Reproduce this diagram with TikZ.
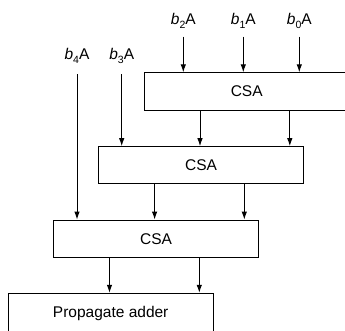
\documentclass[tikz,border=0pt]{standalone}
\usepackage{fontspec}
\setmainfont{Liberation Sans}
\usetikzlibrary{arrows.meta,calc}
\tikzset{
  blk/.style={draw, line width=1pt, minimum width=205.4pt, minimum height=37.3pt, inner sep=0pt, font=\fontsize{15.5}{18}\selectfont},
  lab/.style={inner sep=0pt, anchor=base, font=\fontsize{15.5}{18}\selectfont},
  arr/.style={line width=0.95pt, -{Latex[length=8pt,width=5.5pt]}}
}
\newcommand{\bsub}[1]{{\itshape b}\raisebox{-4pt}{\fontsize{10.5}{10.5}\selectfont #1}A}
\begin{document}
\begin{tikzpicture}[x=1pt,y=-1pt]
\useasboundingbox (0,0) rectangle (345,330);
\clip (0,0) rectangle (345,330);
\node[blk] (c1) at (246.7,91.5) {CSA};
\node[blk] (c2) at (201.0,165.3) {CSA};
\node[blk] (c3) at (156.0,238.7) {CSA};
\node[blk, minimum height=42pt] (pa) at (110.7,314.3) {\raisebox{4pt}{Propagate adder}};
\node[lab] (b2) at (183.3,24) {\bsub{2}};
\node[lab] (b1) at (243.3,24) {\bsub{1}};
\node[lab] (b0) at (299.3,24) {\bsub{0}};
\node[lab] (b4) at (77,59.5) {\bsub{4}};
\node[lab] (b3) at (121.7,59.5) {\bsub{3}};
% inputs
\draw[arr] ([yshift=-12.7pt]b2.base) -- (b2.base |- c1.north);
\draw[arr] ([yshift=-12.7pt]b1.base) -- (b1.base |- c1.north);
\draw[arr] ([yshift=-12.7pt]b0.base) -- (b0.base |- c1.north);
\draw[arr] ([yshift=-14.5pt]b3.base) -- (b3.base |- c2.north);
\draw[arr] ([yshift=-14.5pt]b4.base) -- (b4.base |- c3.north);
% CSA outputs
\draw[arr] ([xshift=56.5pt]c1.south west) -- ([xshift=56.5pt]c1.south west |- c2.north);
\draw[arr] ([xshift=146.3pt]c1.south west) -- ([xshift=146.3pt]c1.south west |- c2.north);
\draw[arr] ([xshift=56.8pt]c2.south west) -- ([xshift=56.8pt]c2.south west |- c3.north);
\draw[arr] ([xshift=146.5pt]c2.south west) -- ([xshift=146.5pt]c2.south west |- c3.north);
\draw[arr] ([xshift=56.7pt]c3.south west) -- ([xshift=56.7pt]c3.south west |- pa.north);
\draw[arr] ([xshift=146.5pt]c3.south west) -- ([xshift=146.5pt]c3.south west |- pa.north);
\end{tikzpicture}
\end{document}
